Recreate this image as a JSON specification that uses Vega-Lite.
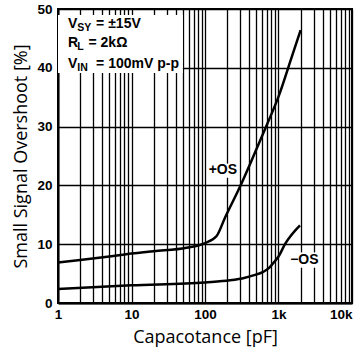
{
  "$schema": "https://vega.github.io/schema/vega-lite/v6.json",
  "width": 294,
  "height": 294,
  "autosize": {"type": "none"},
  "padding": {"left": 58, "top": 9, "right": 11, "bottom": 46},
  "background": "white",
  "config": {
    "view": {"stroke": "black", "strokeWidth": 2},
    "axis": {
      "gridColor": "black", "gridOpacity": 1, "gridWidth": 1.3,
      "domainColor": "black", "domainWidth": 2, "ticks": false,
      "labelFont": "Liberation Sans", "labelFontWeight": "bold", "labelFontSize": 13.5, "labelColor": "black",
      "titleFont": "Open Sans", "titleFontWeight": "normal", "titleFontSize": 18, "titleColor": "black"
    }
  },
  "datasets": {
    "curves": [
      {"c": "+OS", "x": 1, "y": 6.9}, {"c": "+OS", "x": 2, "y": 7.3}, {"c": "+OS", "x": 5, "y": 7.9},
      {"c": "+OS", "x": 10, "y": 8.4}, {"c": "+OS", "x": 20, "y": 8.8}, {"c": "+OS", "x": 56, "y": 9.4},
      {"c": "+OS", "x": 100, "y": 10.2}, {"c": "+OS", "x": 144, "y": 11.4}, {"c": "+OS", "x": 187, "y": 14.5},
      {"c": "+OS", "x": 300, "y": 19.8}, {"c": "+OS", "x": 454, "y": 24.9}, {"c": "+OS", "x": 700, "y": 30.4},
      {"c": "+OS", "x": 1000, "y": 35.1}, {"c": "+OS", "x": 1500, "y": 41.7}, {"c": "+OS", "x": 2000, "y": 46.4},
      {"c": "-OS", "x": 1, "y": 2.4}, {"c": "-OS", "x": 10, "y": 3.0}, {"c": "-OS", "x": 100, "y": 3.5},
      {"c": "-OS", "x": 219, "y": 3.85}, {"c": "-OS", "x": 350, "y": 4.3}, {"c": "-OS", "x": 454, "y": 4.7},
      {"c": "-OS", "x": 620, "y": 5.3}, {"c": "-OS", "x": 750, "y": 6.0}, {"c": "-OS", "x": 850, "y": 6.8},
      {"c": "-OS", "x": 1000, "y": 7.9}, {"c": "-OS", "x": 1225, "y": 10}, {"c": "-OS", "x": 1960, "y": 13.2}
    ],
    "boxes": [
      {"x1": 1, "x2": 50, "y1": 39.1, "y2": 49},
      {"x1": 140, "x2": 225, "y1": 21.3, "y2": 23.7},
      {"x1": 1400, "x2": 3300, "y1": 6.0, "y2": 8.6}
    ],
    "mainText": [
      {"t": "V", "x": 1.37, "y": 46.8},
      {"t": "R", "x": 1.37, "y": 43.5},
      {"t": "V", "x": 1.37, "y": 40.0}
    ],
    "subText": [
      {"t": "SY", "x": 1.83, "y": 46.3},
      {"t": "L", "x": 1.83, "y": 43.0},
      {"t": "IN", "x": 1.83, "y": 39.5}
    ],
    "restText": [
      {"t": "= ±15V", "x": 3.3, "y": 46.8},
      {"t": "= 2kΩ", "x": 2.6, "y": 43.5},
      {"t": "= 100mV p-p", "x": 3.3, "y": 40.0}
    ],
    "curveLabels": [
      {"t": "+OS", "x": 175, "y": 22.6},
      {"t": "−OS", "x": 2250, "y": 7.3}
    ]
  },
  "layer": [
    {
      "data": {"name": "boxes"},
      "mark": {"type": "rect", "fill": "white"},
      "encoding": {
        "x": {"field": "x1", "type": "quantitative",
              "scale": {"type": "log", "domain": [1, 10000]},
              "axis": {
                "title": "Capacotance [pF]", "titlePadding": 8,
                "values": [1,2,3,4,5,6,7,8,9,10,20,30,40,50,60,70,80,90,100,200,300,400,500,600,700,800,900,1000,2000,3000,4000,5000,6000,7000,8000,9000,10000],
                "labelExpr": "datum.value == 1 ? '1' : datum.value == 10 ? '10' : datum.value == 100 ? '100' : datum.value == 1000 ? '1k' : datum.value == 10000 ? '10k' : ''",
                "labelFlush": false, "labelOverlap": false, "labelPadding": 4,
                "labelAlign": {"condition": {"test": "datum.value == 10000", "value": "right"}, "value": "center"}
              }},
        "x2": {"field": "x2"},
        "y": {"field": "y1", "type": "quantitative",
              "scale": {"domain": [0, 50]},
              "axis": {"title": "Small Signal Overshoot [%]", "values": [0,5,10,15,20,25,30,35,40,45,50], "labelPadding": 6, "titlePadding": 6}},
        "y2": {"field": "y2"}
      }
    },
    {
      "data": {"name": "curves"},
      "mark": {"type": "line", "color": "black", "strokeWidth": 2.5, "interpolate": "monotone"},
      "encoding": {
        "x": {"field": "x", "type": "quantitative"},
        "y": {"field": "y", "type": "quantitative"},
        "detail": {"field": "c"}
      }
    },
    {
      "data": {"name": "mainText"},
      "mark": {"type": "text", "align": "left", "baseline": "alphabetic", "font": "Liberation Sans", "fontWeight": "bold", "fontSize": 14, "color": "black"},
      "encoding": {"x": {"field": "x", "type": "quantitative"}, "y": {"field": "y", "type": "quantitative"}, "text": {"field": "t"}}
    },
    {
      "data": {"name": "subText"},
      "mark": {"type": "text", "align": "left", "baseline": "alphabetic", "font": "Liberation Sans", "fontWeight": "bold", "fontSize": 10.5, "color": "black"},
      "encoding": {"x": {"field": "x", "type": "quantitative"}, "y": {"field": "y", "type": "quantitative"}, "text": {"field": "t"}}
    },
    {
      "data": {"name": "restText"},
      "mark": {"type": "text", "align": "left", "baseline": "alphabetic", "font": "Liberation Sans", "fontWeight": "bold", "fontSize": 14, "color": "black"},
      "encoding": {"x": {"field": "x", "type": "quantitative"}, "y": {"field": "y", "type": "quantitative"}, "text": {"field": "t"}}
    },
    {
      "data": {"name": "curveLabels"},
      "mark": {"type": "text", "align": "center", "baseline": "middle", "font": "Liberation Sans", "fontWeight": "bold", "fontSize": 14, "color": "black"},
      "encoding": {"x": {"field": "x", "type": "quantitative"}, "y": {"field": "y", "type": "quantitative"}, "text": {"field": "t"}}
    }
  ]
}
